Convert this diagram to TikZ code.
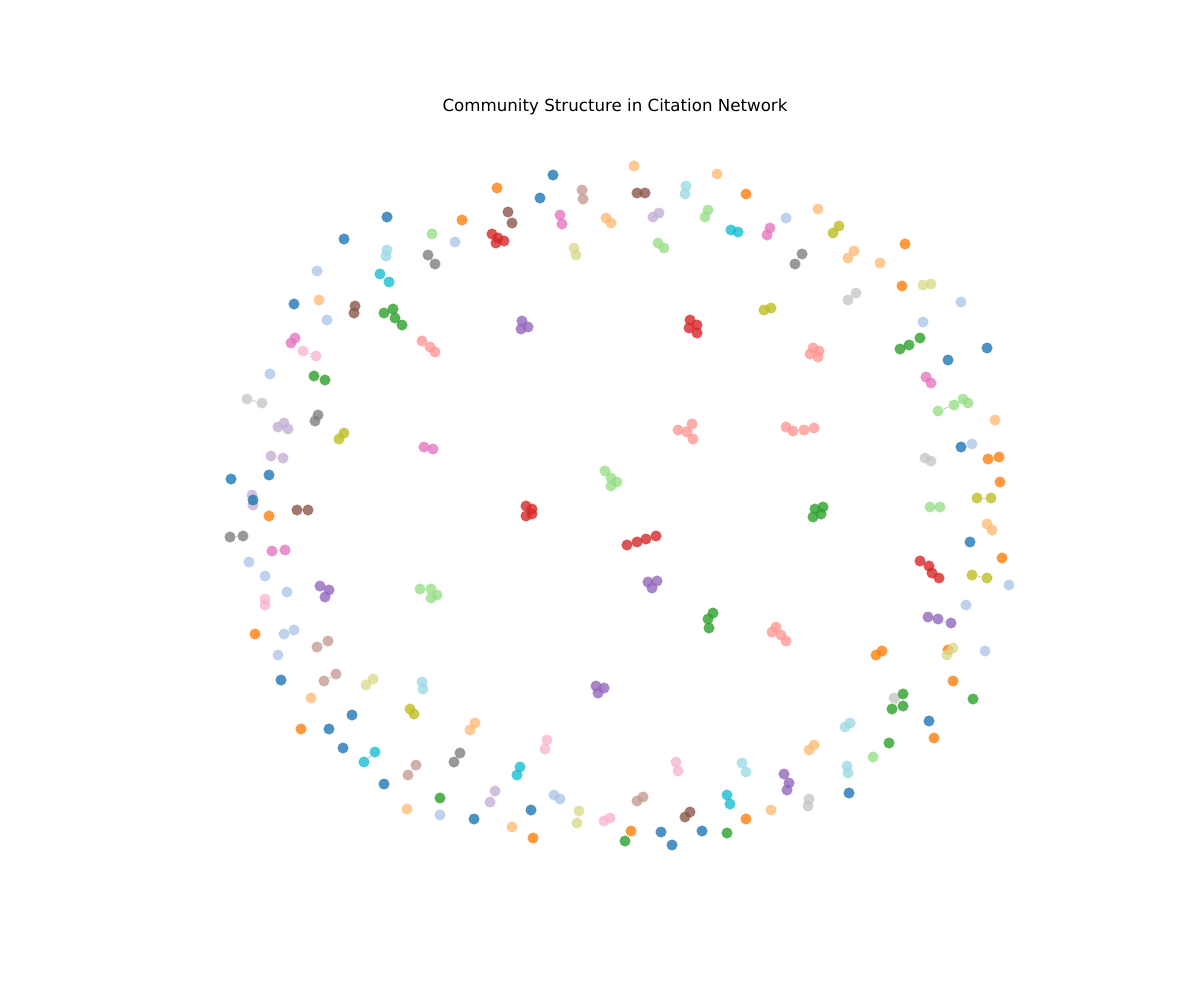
\documentclass[tikz,border=0pt]{standalone}
\usepackage{fontspec}
\setmainfont{DejaVu Sans}
\usetikzlibrary{backgrounds}

\definecolor{tabblue}{HTML}{1F77B4}
\definecolor{tabltblue}{HTML}{AEC7E8}
\definecolor{taborange}{HTML}{FF7F0E}
\definecolor{tabltorange}{HTML}{FFBB78}
\definecolor{tabgreen}{HTML}{2CA02C}
\definecolor{tabltgreen}{HTML}{98DF8A}
\definecolor{tabred}{HTML}{D62728}
\definecolor{tabltred}{HTML}{FF9896}
\definecolor{tabpurple}{HTML}{9467BD}
\definecolor{tabltpurple}{HTML}{C5B0D5}
\definecolor{tabbrown}{HTML}{8C564B}
\definecolor{tabltbrown}{HTML}{C49C94}
\definecolor{tabpink}{HTML}{E377C2}
\definecolor{tabltpink}{HTML}{F7B6D2}
\definecolor{tabgray}{HTML}{7F7F7F}
\definecolor{tabltgray}{HTML}{C7C7C7}
\definecolor{tabolive}{HTML}{BCBD22}
\definecolor{tabltolive}{HTML}{DBDB8D}
\definecolor{tabcyan}{HTML}{17BECF}
\definecolor{tabltcyan}{HTML}{9EDAE5}

\tikzset{
  member/.style={circle, inner sep=0pt, minimum size=8pt, fill=#1, fill opacity=0.8},
  link/.style={draw=black!22, line width=0.6pt}
}

% communities: colour / members (pixel positions)
\def\communities{%
tabblue/{387/217}, taborange/{462/220}, tabltgreen/{432/234}, tabltblue/{455/242},
tabred/{492/234,498/238,496/243,504/241}, tabblue/{344/239},
tabltcyan/{387/250,386/256}, tabgray/{428/255,435/264}, tabltblue/{317/271},
tabcyan/{380/274,389/282}, tabblue/{294/304}, tabltorange/{319/300}, tabltblue/{327/320},
tabbrown/{355/306,354/313}, tabgreen/{384/313,393/309,395/318,402/325},
tabpink/{295/338,291/343}, tabltpink/{303/351,316/356}, tabltred/{422/341,430/347,435/352},
tabltblue/{270/374}, tabgreen/{314/376,325/380}, tabltgray/{247/399,262/403},
tabgray/{318/415,315/421}, tabltpurple/{284/423,278/427,288/429}, tabolive/{344/433,339/439},
tabpink/{424/447,433/449}, tabltpurple/{271/456,283/458}, tabblue/{231/479}, tabblue/{269/475},
tabltpurple/{252/495,253/505}, tabblue/{253/500},
taborange/{497/188}, tabblue/{553/175}, tabblue/{540/198}, tabltbrown/{582/190,583/199},
tabltorange/{634/166}, tabbrown/{637/193,645/193}, tabltcyan/{686/186,685/194},
tabltorange/{717/174}, taborange/{746/194}, tabbrown/{508/212,512/223},
tabpink/{560/215,562/224}, tabltorange/{606/218,611/223}, tabltpurple/{653/217,659/213},
tabltgreen/{708/210,705/217}, tabcyan/{731/230,738/232}, tabltolive/{574/248,576/255},
tabltgreen/{658/243,664/248}, tabpurple/{522/321,528/327,521/329},
tabred/{690/320,697/325,689/328,697/333}, tabltred/{692/424,678/430,687/432,693/439},
tabltgreen/{605/471,611/478,617/482,611/486},
tabltblue/{786/218}, tabpink/{770/228,767/235}, tabltorange/{818/209}, tabolive/{839/226,833/233},
tabgray/{802/254,795/264}, tabltorange/{854/251,848/258}, taborange/{905/244}, tabltorange/{880/263},
taborange/{902/286}, tabltolive/{923/285,931/284}, tabltgray/{856/293,848/300}, tabltblue/{961/302},
tabolive/{764/310,771/308}, tabltblue/{923/322}, tabgreen/{900/349,909/345,920/338},
tabblue/{987/348}, tabblue/{948/360}, tabltred/{813/348,819/351,810/354,818/357},
tabpink/{926/377,931/383}, tabltgreen/{938/411,954/405,963/399,968/403}, tabltorange/{995/420},
tabltred/{786/427,793/431,804/430,814/428}, tabblue/{961/447}, tabltblue/{972/444},
tabltgray/{925/458,931/461}, taborange/{988/459,999/457}, taborange/{1000/482},
tabolive/{977/498,991/498}, tabltgreen/{930/507,940/507}, tabgreen/{815/509,823/507,813/517,821/514},
taborange/{269/516}, tabbrown/{297/510,308/510}, tabgray/{230/537,243/536}, tabpink/{272/551,285/550},
tabltblue/{249/562}, tabltblue/{265/576}, tabltblue/{287/592}, tabpurple/{320/586,329/590,325/597},
tabltpink/{265/599,265/605}, tabltgreen/{420/589,431/589,437/595,431/598}, taborange/{255/634},
tabltblue/{284/634,294/630}, tabltbrown/{317/647,328/641}, tabltblue/{278/655}, tabblue/{281/680},
tabltbrown/{324/681,336/674}, tabltolive/{366/685,373/679}, tabltcyan/{422/682,423/689},
tabltorange/{311/698}, tabolive/{410/709,414/714}, tabblue/{352/715}, taborange/{301/729},
tabblue/{329/729}, tabltorange/{475/723,470/730}, tabblue/{343/748}, tabcyan/{375/752,364/762},
tabgray/{460/753,454/762}, tabltbrown/{416/765,408/775}, tabblue/{384/784}, tabgreen/{440/798},
tabltpurple/{495/791,490/802}, tabltorange/{407/809}, tabltblue/{440/815}, tabblue/{474/819},
tabred/{526/506,532/509,526/516,532/514}, tabred/{627/545,637/542,646/539,656/536},
tabpurple/{648/582,657/581,652/588}, tabgreen/{713/613,708/619,709/628},
tabpurple/{596/686,604/688,598/693}, tabltpink/{547/740,545/749}, tabltpink/{676/762,678/771},
tabltcyan/{742/763,746/772}, tabcyan/{520/767,517/775}, tabltblue/{554/795,560/799},
tabltbrown/{643/797,637/801}, tabcyan/{727/795,730/804}, tabblue/{531/810},
tabltolive/{579/811,577/823}, tabbrown/{690/812,685/817}, tabltpink/{610/818,604/821},
taborange/{746/819}, tabltorange/{512/827}, taborange/{631/831}, tabblue/{661/832},
tabblue/{702/831}, tabgreen/{727/833}, taborange/{533/838}, tabgreen/{625/841}, tabblue/{672/845},
tabltorange/{987/524,992/530}, tabblue/{970/542}, taborange/{1002/558},
tabred/{920/561,929/566,932/573,939/578}, tabolive/{972/575,987/578}, tabltblue/{1009/585},
tabltblue/{966/605}, tabpurple/{928/617,938/619,951/623}, tabltred/{776/627,772/632,781/635,786/641},
taborange/{876/655,882/651}, taborange/{948/650}, tabltolive/{953/648,947/655}, tabltblue/{985/651},
taborange/{953/681}, tabltgray/{894/698}, tabgreen/{903/694,892/709,903/706}, tabgreen/{973/699},
tabltcyan/{845/727,850/723}, tabblue/{929/721}, taborange/{934/738}, tabgreen/{889/743},
tabltorange/{814/745,809/750}, tabltgreen/{873/757}, tabltcyan/{847/766,848/773},
tabpurple/{784/774,789/783,787/790}, tabblue/{849/793}, tabltgray/{809/799,808/806},
tabltorange/{771/810}}

\begin{document}
\begin{tikzpicture}[x=0.72pt,y=-0.72pt]
\useasboundingbox (0,0) rectangle (1200,1000);

\node[font=\fontsize{12}{14}\selectfont] (title) at (615,107) {Community Structure in Citation Network};

% members of each community
\foreach \col/\pts [count=\k] in \communities {
  \foreach \x/\y [count=\i] in \pts {
    \node[member=\col] (c\k-\i) at (\x,\y) {};
  }
}

% citation links inside a community
\begin{pgfonlayer}{background}
\foreach \col/\pts [count=\k] in \communities {
  \foreach \x/\y [count=\i, remember=\i as \j (initially 0)] in \pts {
    \ifnum\i>1 \draw[link] (c\k-\j) -- (c\k-\i); \fi
  }
}
\end{pgfonlayer}
\end{tikzpicture}
\end{document}
